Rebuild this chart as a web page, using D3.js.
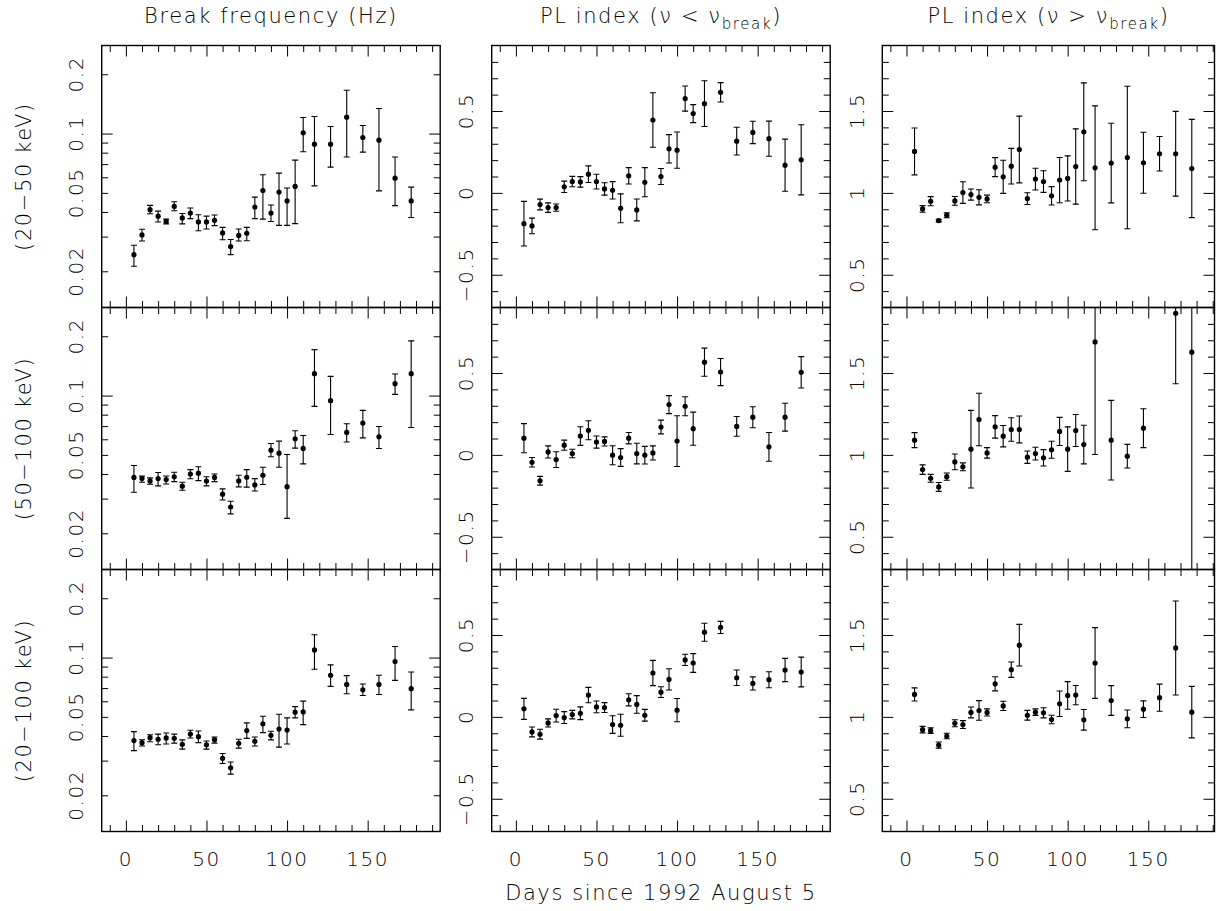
<!DOCTYPE html>
<html>
<head>
<meta charset="utf-8">
<script src="https://cdn.jsdelivr.net/npm/d3@7"></script>
<style>
  body { margin: 0; background: #fff; }
  text { font-family: "DejaVu Sans", sans-serif; font-weight: 200; fill: #000; letter-spacing: 1.6px; }
</style>
</head>
<body>
<div id="chart"></div>
<script>
// ---- data ----
const days = [5, 10, 15, 20, 25, 30, 35, 40, 45, 50, 55, 60, 65, 70, 75, 80, 85, 90, 95, 100, 105, 110,
              117, 127, 137, 147, 157, 167, 177];

const bandLabels = ['(20\u221250 keV)', '(50\u2212100 keV)', '(20\u2212100 keV)'];
const xTickLabels = [0, 50, 100, 150];
const freqTickLabels = [0.02, 0.05, 0.1, 0.2];
const indexLowTickLabels = [-0.5, 0, 0.5];
const indexHighTickLabels = [0.5, 1, 1.5];

// break frequency (Hz), with lower / upper ends of the error bars
const freq_20_50   = [0.0243,0.0306,0.0411,0.0381,0.0358,0.0427,0.0373,0.0395,0.0356,0.0356,0.0363,0.0313,0.0267,0.0304,0.0312,0.0424,0.0514,0.0395,0.0505,0.0455,0.0539,0.1009,0.0883,0.0883,0.1211,0.0955,0.0926,0.0594,0.0455];
const freqHi_20_50 = [0.0271,0.0327,0.0432,0.0404,0.0368,0.0451,0.0393,0.0419,0.0387,0.0381,0.0386,0.0334,0.0290,0.0328,0.0334,0.0476,0.0618,0.0434,0.0630,0.0529,0.0733,0.1206,0.1221,0.1086,0.1659,0.1099,0.1340,0.0760,0.0535];
const freqLo_20_50 = [0.0212,0.0285,0.0392,0.0356,0.0348,0.0406,0.0348,0.0370,0.0321,0.0328,0.0341,0.0289,0.0243,0.0285,0.0286,0.0370,0.0368,0.0358,0.0342,0.0342,0.0349,0.0808,0.0543,0.0676,0.0760,0.0805,0.0512,0.0431,0.0375];

const freq_50_100   = [0.0384,0.0379,0.0369,0.0379,0.0375,0.0387,0.0347,0.0400,0.0404,0.0368,0.0384,0.0316,0.0272,0.0369,0.0385,0.0352,0.0394,0.0528,0.0510,0.0345,0.0603,0.0539,0.1292,0.0942,0.0650,0.0725,0.0618,0.1149,0.1292];
const freqHi_50_100 = [0.0442,0.0390,0.0382,0.0407,0.0391,0.0408,0.0363,0.0421,0.0435,0.0387,0.0400,0.0336,0.0291,0.0394,0.0421,0.0379,0.0433,0.0571,0.0587,0.0502,0.0663,0.0627,0.1711,0.1252,0.0719,0.0841,0.0697,0.1287,0.1896];
const freqLo_50_100 = [0.0323,0.0363,0.0355,0.0348,0.0356,0.0366,0.0331,0.0378,0.0370,0.0348,0.0366,0.0295,0.0251,0.0344,0.0343,0.0328,0.0354,0.0489,0.0433,0.0238,0.0541,0.0450,0.0881,0.0635,0.0581,0.0610,0.0539,0.1014,0.0689];

const freq_20_100   = [0.0379,0.0370,0.0392,0.0385,0.0391,0.0389,0.0363,0.0409,0.0397,0.0361,0.0383,0.0308,0.0276,0.0367,0.0426,0.0376,0.0461,0.0403,0.0434,0.0429,0.0528,0.0530,0.1094,0.0813,0.0731,0.0686,0.0731,0.0954,0.0695];
const freqHi_20_100 = [0.0421,0.0383,0.0406,0.0409,0.0414,0.0409,0.0382,0.0428,0.0424,0.0377,0.0395,0.0326,0.0295,0.0385,0.0466,0.0395,0.0504,0.0423,0.0516,0.0494,0.0564,0.0601,0.1305,0.0918,0.0810,0.0734,0.0813,0.1138,0.0845];
const freqLo_20_100 = [0.0337,0.0356,0.0374,0.0361,0.0364,0.0368,0.0343,0.0391,0.0370,0.0343,0.0368,0.0290,0.0256,0.0347,0.0389,0.0356,0.0416,0.0382,0.0351,0.0364,0.0494,0.0457,0.0872,0.0714,0.0655,0.0642,0.0650,0.0766,0.0543];

// PL index below the break, with symmetric errors
const idxLow_20_50     = [-0.188,-0.202,-0.071,-0.090,-0.090,0.037,0.069,0.067,0.114,0.069,0.024,0.016,-0.094,0.104,-0.104,0.065,0.445,0.100,0.269,0.261,0.576,0.484,0.545,0.614,0.316,0.369,0.331,0.169,0.202];
const idxLowErr_20_50  = [0.136,0.048,0.033,0.029,0.022,0.035,0.032,0.032,0.051,0.045,0.038,0.053,0.088,0.050,0.067,0.089,0.166,0.049,0.087,0.111,0.077,0.055,0.140,0.059,0.085,0.068,0.107,0.159,0.214];
const idxLow_50_100    = [0.102,-0.045,-0.158,0.018,-0.029,0.059,0.008,0.115,0.150,0.078,0.082,-0.002,-0.016,0.102,0.008,-0.002,0.012,0.170,0.307,0.084,0.297,0.160,0.566,0.506,0.174,0.230,0.049,0.230,0.504];
const idxLowErr_50_100 = [0.089,0.029,0.027,0.037,0.048,0.031,0.026,0.057,0.058,0.037,0.028,0.058,0.054,0.035,0.063,0.054,0.043,0.042,0.055,0.155,0.058,0.101,0.086,0.083,0.060,0.064,0.088,0.085,0.096];
const idxLow_20_100    = [0.049,-0.092,-0.106,-0.037,0.008,-0.004,0.014,0.022,0.133,0.061,0.057,-0.047,-0.051,0.104,0.076,0.010,0.268,0.151,0.229,0.041,0.348,0.329,0.517,0.546,0.239,0.204,0.227,0.286,0.274];
const idxLowErr_20_100 = [0.064,0.030,0.030,0.025,0.039,0.036,0.026,0.039,0.047,0.036,0.030,0.054,0.067,0.037,0.054,0.036,0.077,0.033,0.065,0.071,0.034,0.057,0.055,0.037,0.047,0.040,0.049,0.071,0.091];

// PL index above the break, with symmetric errors (null = no point)
const idxHigh_20_50     = [1.253,0.902,0.949,0.831,0.863,0.951,1.002,0.990,0.973,0.963,1.157,1.098,1.163,1.265,0.965,1.084,1.069,0.982,1.078,1.088,1.161,1.373,1.153,1.182,1.216,1.184,1.239,1.239,1.149];
const idxHighErr_20_50  = [0.143,0.020,0.028,0.008,0.015,0.027,0.066,0.034,0.046,0.023,0.058,0.101,0.109,0.204,0.036,0.066,0.066,0.056,0.138,0.138,0.230,0.299,0.378,0.243,0.435,0.186,0.105,0.259,0.300];
const idxHigh_50_100    = [1.090,0.910,0.857,0.804,0.867,0.957,0.927,1.035,1.216,1.012,1.171,1.114,1.155,1.155,0.986,1.008,0.982,1.031,1.143,1.035,1.149,1.063,1.690,1.090,0.992,1.163,null,1.865,1.627];
const idxHighErr_50_100 = [0.046,0.029,0.024,0.027,0.022,0.048,0.024,0.237,0.160,0.032,0.069,0.065,0.072,0.082,0.038,0.039,0.050,0.052,0.086,0.136,0.098,0.118,0.688,0.243,0.072,0.119,null,0.431,1.400];
const idxHigh_20_100    = [1.137,0.922,0.916,0.828,0.883,0.961,0.953,1.027,1.039,1.027,1.202,1.067,1.288,1.438,1.010,1.029,1.025,0.984,1.080,1.131,1.133,0.982,1.329,1.100,0.988,1.047,1.117,1.421,1.029];
const idxHighErr_20_100 = [0.040,0.020,0.017,0.019,0.017,0.021,0.024,0.033,0.060,0.022,0.043,0.028,0.047,0.127,0.030,0.020,0.031,0.026,0.078,0.084,0.059,0.063,0.216,0.091,0.054,0.051,0.083,0.287,0.157];

// ---- build point tables ----
const logRows = (v, lo, hi) => days.map((d, i) => ({ x: d, y: v[i], lo: lo[i], hi: hi[i] }));
const linRows = (v, e) => days.map((d, i) => ({ x: d, y: v[i], lo: v[i] - e[i], hi: v[i] + e[i] }))
  .filter(d => d.y !== null && !isNaN(d.y));

const panels = [
  [logRows(freq_20_50, freqLo_20_50, freqHi_20_50),
   linRows(idxLow_20_50, idxLowErr_20_50),
   linRows(idxHigh_20_50, idxHighErr_20_50)],
  [logRows(freq_50_100, freqLo_50_100, freqHi_50_100),
   linRows(idxLow_50_100, idxLowErr_50_100),
   linRows(idxHigh_50_100, idxHighErr_50_100)],
  [logRows(freq_20_100, freqLo_20_100, freqHi_20_100),
   linRows(idxLow_20_100, idxLowErr_20_100),
   linRows(idxHigh_20_100, idxHighErr_20_100)]
];

// ---- layout ----
const width = 1228, height = 911;
const colLeft = [101.7, 491.7, 882.3];
const colRight = [440.2, 830.2, 1214.5];
const rowTop = 45.5, rowH = 262;
const majorLen = 11, minorLen = 6.5;

const svg = d3.select('#chart').append('svg')
  .attr('width', width)
  .attr('height', height);

const xScales = colLeft.map((l, c) => {
  const pxPerDay = (colRight[0] - colLeft[0]) / 210;
  return d3.scaleLinear().domain([-15, -15 + (colRight[c] - l) / pxPerDay]).range([l, colRight[c]]);
});

function yScaleFor(r, c) {
  const top = rowTop + r * rowH, bottom = top + rowH;
  if (c === 0) return d3.scaleLog().domain([0.0131, 0.2799]).range([bottom, top]);
  if (c === 1) return d3.scaleLinear().domain([-0.7, 0.9]).range([bottom, top]);
  return d3.scaleLinear().domain([0.3, 1.9]).range([bottom, top]);
}

const xMajor = [0, 50, 100, 150];
const xMinor = d3.range(-10, 200, 10).filter(v => xMajor.indexOf(v) < 0);
const yTicks = [
  { major: [0.1], minor: [0.02,0.03,0.04,0.05,0.06,0.07,0.08,0.09,0.2], labels: freqTickLabels, fmt: d => String(d) },
  { major: [-0.5, 0, 0.5], minor: [-0.6,-0.4,-0.3,-0.2,-0.1,0.1,0.2,0.3,0.4,0.6,0.7,0.8], labels: indexLowTickLabels,
    fmt: d => d < 0 ? '\u2212' + String(-d) : String(d) },
  { major: [0.5, 1, 1.5], minor: [0.4,0.6,0.7,0.8,0.9,1.1,1.2,1.3,1.4,1.6,1.7,1.8], labels: indexHighTickLabels, fmt: d => String(d) }
];

// inward ticks on one side via d3 axis
function ticks(g, axisFn, scale, values, len, transform) {
  g.append('g')
    .attr('transform', transform)
    .call(axisFn(scale).tickValues(values).tickSize(-len).tickFormat(''))
    .call(a => a.select('.domain').remove())
    .call(a => a.selectAll('line').attr('stroke', '#000').attr('stroke-width', 1));
}

for (let r = 0; r < 3; r++) {
  for (let c = 0; c < 3; c++) {
    const x = xScales[c];
    const y = yScaleFor(r, c);
    const top = rowTop + r * rowH, bottom = top + rowH;
    const left = colLeft[c], right = colRight[c];
    const g = svg.append('g');

    const clipId = `clip-${r}-${c}`;
    svg.append('clipPath').attr('id', clipId)
      .append('rect')
      .attr('x', left).attr('y', top)
      .attr('width', right - left).attr('height', rowH);

    // ticks on all four sides, pointing inward
    ticks(g, d3.axisBottom, x, xMajor, majorLen, `translate(0,${bottom})`);
    ticks(g, d3.axisBottom, x, xMinor, minorLen, `translate(0,${bottom})`);
    ticks(g, d3.axisTop, x, xMajor, majorLen, `translate(0,${top})`);
    ticks(g, d3.axisTop, x, xMinor, minorLen, `translate(0,${top})`);
    ticks(g, d3.axisLeft, y, yTicks[c].major, majorLen, `translate(${left},0)`);
    ticks(g, d3.axisLeft, y, yTicks[c].minor, minorLen, `translate(${left},0)`);
    ticks(g, d3.axisRight, y, yTicks[c].major, majorLen, `translate(${right},0)`);
    ticks(g, d3.axisRight, y, yTicks[c].minor, minorLen, `translate(${right},0)`);

    // frame
    g.append('rect')
      .attr('x', left).attr('y', top)
      .attr('width', right - left).attr('height', rowH)
      .attr('fill', 'none').attr('stroke', '#000').attr('stroke-width', 1.4);

    // y tick labels, rotated like the original
    g.selectAll('.ylab')
      .data(yTicks[c].labels)
      .enter().append('text')
      .attr('class', 'ylab')
      .attr('transform', d => `translate(${left - 18.5},${y(d)}) rotate(-90)`)
      .attr('text-anchor', 'middle')
      .attr('font-size', 20)
      .text(yTicks[c].fmt);

    // x tick labels only on the bottom row
    if (r === 2) {
      g.selectAll('.xlab')
        .data(xTickLabels)
        .enter().append('text')
        .attr('class', 'xlab')
        .attr('x', d => x(d))
        .attr('y', 866)
        .attr('text-anchor', 'middle')
        .attr('font-size', 20)
        .text(d => d);
    }

    // error bars and points
    const data = panels[r][c];
    const floor = y.domain()[0] * 0.5;
    const plot = g.append('g').attr('clip-path', `url(#${clipId})`);
    const bars = plot.selectAll('.bar').data(data).enter().append('g').attr('class', 'bar');
    bars.append('line')
      .attr('x1', d => x(d.x)).attr('x2', d => x(d.x))
      .attr('y1', d => y(Math.max(d.lo, floor)))
      .attr('y2', d => y(d.hi))
      .attr('stroke', '#000').attr('stroke-width', 1.1);
    bars.append('line')
      .attr('x1', d => x(d.x) - 3).attr('x2', d => x(d.x) + 3)
      .attr('y1', d => y(d.hi)).attr('y2', d => y(d.hi))
      .attr('stroke', '#000').attr('stroke-width', 1.1);
    bars.append('line')
      .attr('x1', d => x(d.x) - 3).attr('x2', d => x(d.x) + 3)
      .attr('y1', d => y(Math.max(d.lo, floor))).attr('y2', d => y(Math.max(d.lo, floor)))
      .attr('stroke', '#000').attr('stroke-width', 1.1);
    bars.append('circle')
      .attr('cx', d => x(d.x)).attr('cy', d => y(d.y))
      .attr('r', 2.6).attr('fill', '#000');
  }
}

// column titles
const titleY = 23;
svg.append('text')
  .attr('x', (colLeft[0] + colRight[0]) / 2).attr('y', titleY)
  .attr('text-anchor', 'middle').attr('font-size', 21)
  .text('Break frequency (Hz)');

['<', '>'].forEach((sign, i) => {
  const t = svg.append('text')
    .attr('x', (colLeft[i + 1] + colRight[i + 1]) / 2).attr('y', titleY)
    .attr('text-anchor', 'middle').attr('font-size', 21);
  t.append('tspan').text(`PL index (\u03bd ${sign} \u03bd`);
  t.append('tspan').attr('font-size', 15).attr('dy', 6).text('break');
  t.append('tspan').attr('dy', -6).text(')');
});

// row labels
bandLabels.forEach((lab, r) => {
  svg.append('text')
    .attr('transform', `translate(31,${rowTop + r * rowH + rowH / 2}) rotate(-90)`)
    .attr('text-anchor', 'middle').attr('font-size', 21)
    .text(lab);
});

// x axis title
svg.append('text')
  .attr('x', (colLeft[1] + colRight[1]) / 2).attr('y', 900)
  .attr('text-anchor', 'middle').attr('font-size', 21)
  .text('Days since 1992 August 5');
</script>
</body>
</html>
